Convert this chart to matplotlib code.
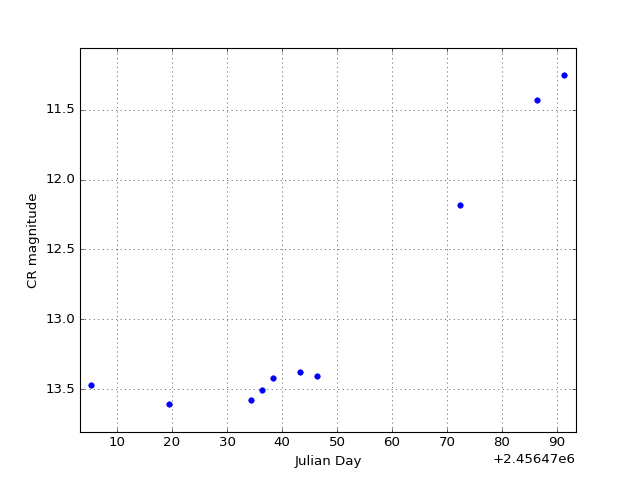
import matplotlib
matplotlib.use('Agg')
import matplotlib.pyplot as plt
from matplotlib.ticker import MultipleLocator
import numpy as np

plt.style.use('classic')

# Julian day and CR magnitude
jd_offset = 2456470
jd_rel = [5.27, 19.45, 34.36, 36.36, 38.36, 43.27, 46.36, 72.36, 86.36, 91.27]
cr_mag = [13.47, 13.607, 13.58, 13.507, 13.42, 13.378, 13.407, 12.181, 11.428, 11.249]

jd = np.array(jd_rel) + jd_offset

fig = plt.figure(figsize=(8, 6), dpi=80)
ax = fig.add_subplot(111)
ax.plot(jd, cr_mag, 'o', color='blue', markeredgecolor='blue', markersize=5)
ax.set_xlim(jd_offset + 3.27, jd_offset + 93.45)
ax.set_ylim(13.808, 11.056)
ax.xaxis.set_major_locator(MultipleLocator(10))
ax.ticklabel_format(axis='x', useOffset=jd_offset)
ax.set_xlabel('Julian Day')
ax.set_ylabel('CR magnitude')
ax.grid(True)

plt.savefig('out.png', dpi=80)
